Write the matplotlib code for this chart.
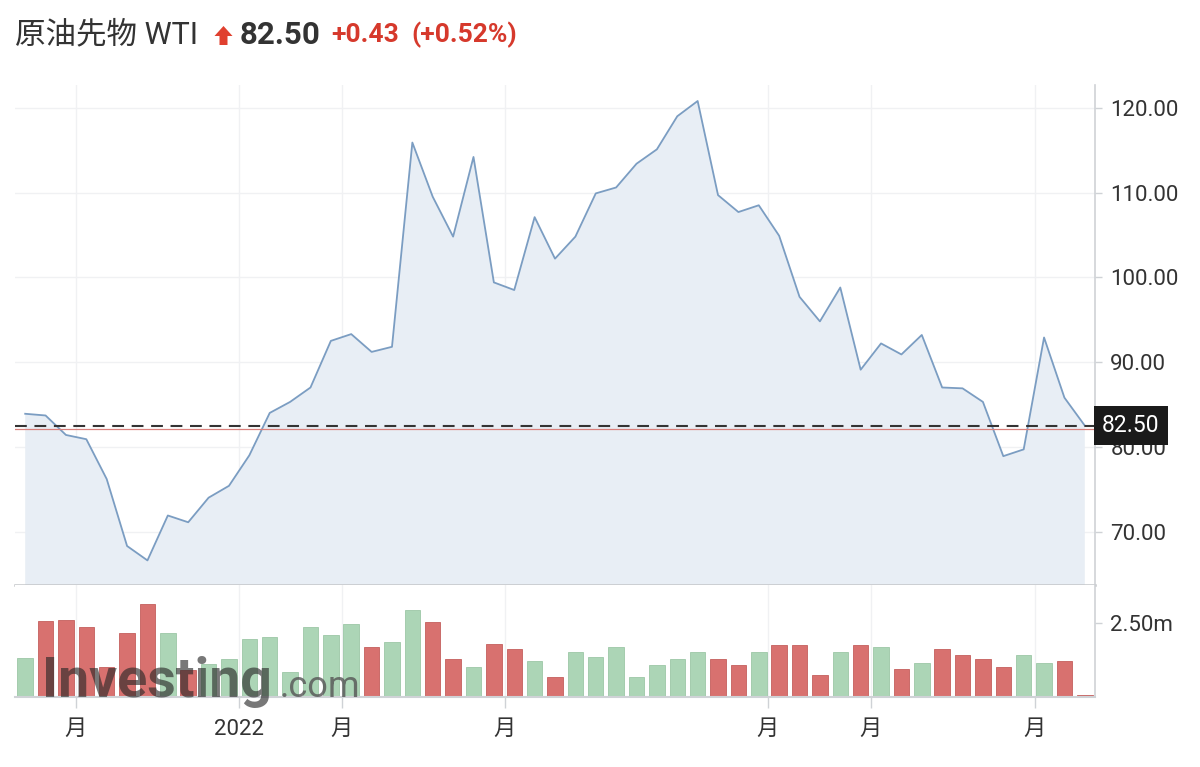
import numpy as np
import matplotlib
matplotlib.use("Agg")
import matplotlib.pyplot as plt
import matplotlib.transforms as mtransforms
from matplotlib.patches import Polygon

plt.rcParams['font.family'] = ['Roboto', 'Noto Sans CJK JP', 'DejaVu Sans']
plt.rcParams['lines.scale_dashes'] = False

# weekly WTI closes
prices = [83.9, 83.7, 81.4, 80.9, 76.2, 68.3, 66.6, 71.9, 71.1, 74.0,
          75.4, 79.0, 84.0, 85.3, 87.0, 92.5, 93.3, 91.2, 91.8, 115.9,
          109.5, 104.8, 114.2, 99.4, 98.5, 107.1, 102.2, 104.8, 109.9, 110.6,
          113.4, 115.1, 119.0, 120.8, 109.7, 107.7, 108.5, 104.9, 97.7, 94.8,
          98.8, 89.1, 92.2, 90.9, 93.2, 87.0, 86.9, 85.3, 78.9, 79.7,
          92.9, 85.8, 82.5]

# volume in millions
volumes = [1.30, 2.55, 2.61, 2.35, 1.00, 2.15, 3.14, 2.15, 0.90, 1.10,
           1.29, 1.95, 2.02, 0.84, 2.35, 2.09, 2.48, 1.69, 1.86, 2.92,
           2.53, 1.27, 1.01, 1.80, 1.61, 1.22, 0.68, 1.53, 1.34, 1.67,
           0.68, 1.08, 1.27, 1.53, 1.27, 1.08, 1.53, 1.74, 1.74, 0.74,
           1.53, 1.74, 1.67, 0.94, 1.14, 1.61, 1.41, 1.27, 1.01, 1.41,
           1.14, 1.20, 0.05]

last_price = 82.50
prev_close = 82.07
change = "+0.43"
change_pct = "(+0.52%)"

x_tick_pos = [2.47, 10.5, 15.54, 23.54, 36.45, 41.5, 49.55]
x_tick_labels = ["月", "2022", "月", "月", "月", "月", "月"]
price_ticks = [70, 80, 90, 100, 110, 120]
vol_ticks = [2.5]

x = np.arange(len(prices))
up = [True] + [prices[i] >= prices[i - 1] for i in range(1, len(prices))]

W, H = 1200, 767
fig = plt.figure(figsize=(12, 7.67), dpi=100)
ax = fig.add_axes([0.0125, 0.2373, 0.9, 0.652])
axv = fig.add_axes([0.0125, 0.0913, 0.9, 0.146], sharex=ax)

grid_c = "#f0f1f3"
axis_c = "#cfd2d6"
text_c = "#333333"
red_txt = "#d6392c"

# price panel
ax.fill_between(x, prices, 0, color="#e8eef5", lw=0, zorder=1)
ax.plot(x, prices, color="#7b9dc2", lw=1.3, zorder=3)
ax.axhline(prev_close, color="#d9807c", lw=0.9, zorder=3)
ax.axhline(last_price, color="#333333", lw=1.5, dashes=(8.5, 5.5), zorder=4)

ax.set_xlim(-0.5, 52.5)
ax.set_ylim(63.7, 122.7)
ax.set_yticks(price_ticks)
ax.set_yticklabels([f"{t:.2f}" for t in price_ticks])
ax.yaxis.tick_right()
ax.grid(True, color=grid_c, lw=1, zorder=0)
ax.set_axisbelow(True)
for s in ["top", "left"]:
    ax.spines[s].set_visible(False)
ax.spines["bottom"].set_color("#c4c6c9")
ax.spines["bottom"].set_linewidth(1.8)
ax.spines["right"].set_color(axis_c)
ax.spines["right"].set_linewidth(1.2)
ax.tick_params(axis="y", length=5, width=1, color=axis_c, labelsize=16,
               labelcolor=text_c, pad=6)
ax.tick_params(axis="x", length=0, labelbottom=False)

# last price box
trans = mtransforms.blended_transform_factory(ax.transAxes, ax.transData)
ax.text(1.0065, last_price, f"{last_price:.2f}", transform=trans, color="white",
        fontsize=16.5, va="center", ha="left", clip_on=False, zorder=10,
        bbox=dict(boxstyle="square,pad=0.35", fc="#1a1a1a", ec="none"))

# volume panel
red = "#d8716f"
green = "#acd5b6"
bar_c = [green if u else red for u in up]
edge_c = ["#9cc7a6" if u else "#c45f5d" for u in up]
axv.bar(x, volumes, width=0.76, color=bar_c, edgecolor=edge_c, lw=0.6, zorder=2)
axv.set_ylim(0, 3.78)
axv.set_yticks(vol_ticks)
axv.set_yticklabels(["2.50m"])
axv.yaxis.tick_right()
axv.set_xticks(x_tick_pos)
axv.set_xticklabels(x_tick_labels)
axv.grid(True, axis="x", color=grid_c, lw=1, zorder=0)
axv.set_axisbelow(True)
for s in ["top", "left"]:
    axv.spines[s].set_visible(False)
axv.spines["bottom"].set_color(axis_c)
axv.spines["bottom"].set_linewidth(1.5)
axv.spines["right"].set_color(axis_c)
axv.spines["right"].set_linewidth(1.2)
axv.tick_params(axis="y", length=5, width=1, color=axis_c, labelsize=16,
                labelcolor=text_c, pad=6)
axv.tick_params(axis="x", length=8, width=1, color=axis_c, labelsize=16,
                labelcolor=text_c, pad=8)
ax.set_xticks(x_tick_pos)

# watermark
fig.text(42 / W, 1 - 697 / H, "Investing", fontsize=40, fontweight="bold",
         color="#262626", alpha=0.62, va="baseline", zorder=20)
fig.text(279 / W, 1 - 697 / H, ".com", fontsize=26, color="#555555",
         alpha=0.8, va="baseline", zorder=20)

# header
y_head = 1 - 35 / H
fig.text(15 / W, y_head, "原油先物 WTI", fontsize=22, color=text_c,
         va="center", ha="left")
# up arrow glyph
arrow_px = [(223.5, 26), (232.5, 36), (227.5, 36), (227.5, 45),
            (219.5, 45), (219.5, 36), (214.5, 36)]
arrow = Polygon([(px / W, 1 - py / H) for px, py in arrow_px],
                closed=True, fc="#e0402f", ec="none", transform=fig.transFigure)
fig.add_artist(arrow)
fig.text(240 / W, y_head, f"{last_price:.2f}", fontsize=22.5, fontweight="bold",
         color=text_c, va="center", ha="left")
fig.text(331 / W, y_head, change, fontsize=19, fontweight="bold",
         color=red_txt, va="center", ha="left")
fig.text(411 / W, y_head, change_pct, fontsize=19, fontweight="bold",
         color=red_txt, va="center", ha="left")

fig.savefig("out.png", dpi=100)
